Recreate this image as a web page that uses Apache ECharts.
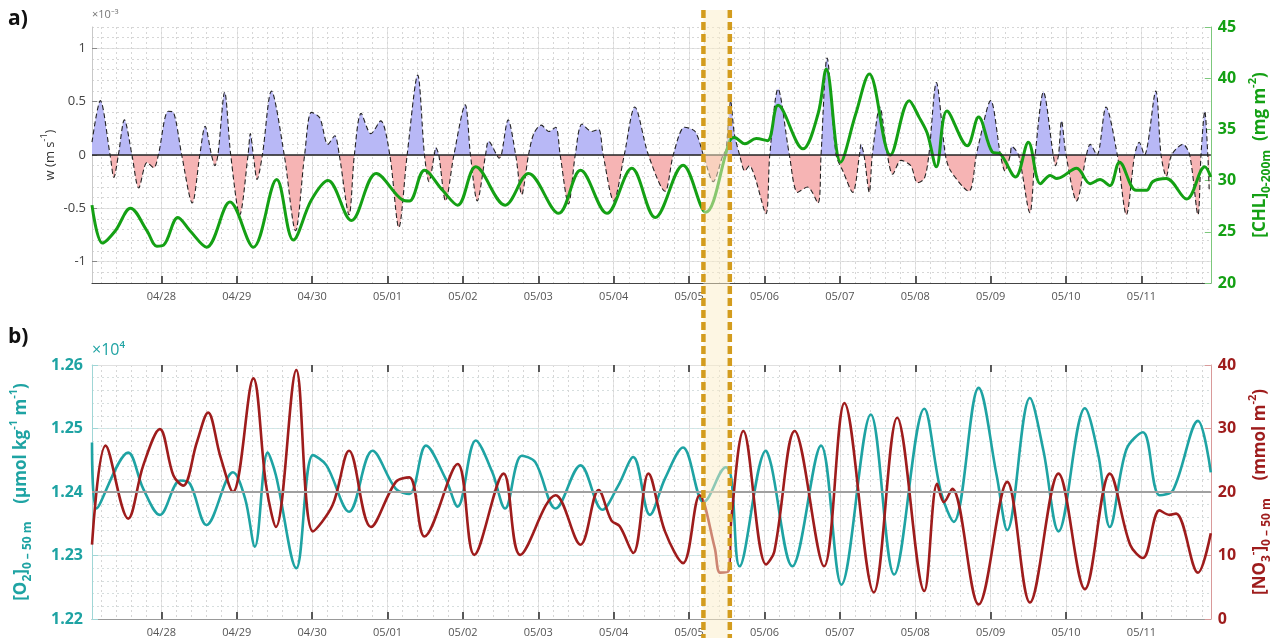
<!DOCTYPE html>
<html>
<head>
<meta charset="utf-8">
<script src="https://cdn.jsdelivr.net/npm/echarts@6/dist/echarts.min.js"></script>
<style>
    html, body { margin: 0; padding: 0; background: #fff; }
    #chart { width: 1281px; height: 638px; }
</style>
</head>
<body>
<div id="chart"></div>
<script>
    // x values are days after 04/28 00:00
    const dayTicks = [0, 1, 2, 3, 4, 5, 6, 7, 8, 9, 10, 11, 12, 13];
    const dateLabels = ['04/28', '04/29', '04/30', '05/01', '05/02', '05/03', '05/04',
        '05/05', '05/06', '05/07', '05/08', '05/09', '05/10', '05/11'];
    const dayRange = [-0.92, 13.92];
    const highlight = [7.19, 7.54];

    // vertical velocity, x10^-3 m s-1
    const wPoints = [[-0.92,0.12],[-0.81,0.51],[-0.68,0],[-0.63,-0.21],[-0.57,0],[-0.49,0.33],[-0.39,0],[-0.30,-0.31],[-0.19,-0.07],[-0.10,-0.12],[-0.04,0],[0.09,0.41],[0.16,0.40],[0.27,0],[0.41,-0.45],[0.51,0],[0.58,0.27],[0.665,0],[0.71,-0.10],[0.75,0],[0.84,0.59],[0.92,0],[1.04,-0.56],[1.15,0],[1.18,0.20],[1.22,0],[1.27,-0.23],[1.34,0],[1.46,0.60],[1.63,0],[1.78,-0.71],[1.90,0],[1.99,0.40],[2.10,0.35],[2.21,0.10],[2.30,0.18],[2.36,0],[2.49,-0.56],[2.56,0],[2.65,0.39],[2.78,0.20],[2.91,0.32],[3.03,0],[3.15,-0.68],[3.26,0],[3.40,0.75],[3.49,0],[3.55,-0.25],[3.62,0],[3.64,0.07],[3.68,0],[3.77,-0.43],[3.88,0],[4.03,0.47],[4.10,0],[4.19,-0.43],[4.30,0],[4.34,0.13],[4.45,0],[4.48,-0.03],[4.51,0],[4.60,0.33],[4.70,0],[4.78,-0.37],[4.87,0],[4.94,0.20],[5.04,0.28],[5.14,0.22],[5.23,0.26],[5.29,0],[5.40,-0.46],[5.49,0],[5.58,0.29],[5.71,0.22],[5.80,0.24],[5.86,0],[6.00,-0.43],[6.14,0],[6.28,0.45],[6.46,0],[6.68,-0.34],[6.79,0],[6.94,0.26],[7.08,0.22],[7.19,0],[7.32,-0.25],[7.45,0],[7.49,0.05],[7.55,0.51],[7.60,0.20],[7.67,0],[7.74,-0.15],[7.80,-0.10],[7.87,-0.20],[8.02,-0.55],[8.07,0],[8.18,0.62],[8.33,0],[8.44,-0.35],[8.57,-0.30],[8.71,-0.45],[8.75,0],[8.83,0.91],[8.95,0],[9.04,-0.15],[9.17,-0.35],[9.26,0],[9.28,0.10],[9.32,0],[9.39,-0.35],[9.43,0],[9.53,0.45],[9.63,0],[9.70,-0.18],[9.81,-0.05],[9.94,-0.10],[10.03,-0.26],[10.12,-0.22],[10.18,0],[10.28,0.68],[10.40,0],[10.47,-0.15],[10.71,-0.34],[10.81,0],[10.84,0.10],[11.00,0.51],[11.13,0],[11.19,-0.15],[11.26,0],[11.28,0.08],[11.37,0],[11.52,-0.54],[11.59,0],[11.70,0.59],[11.83,0],[11.86,-0.10],[11.90,0],[11.94,0.32],[12.00,0],[12.14,-0.43],[12.27,0],[12.32,0.10],[12.41,0],[12.53,0.45],[12.68,0],[12.80,-0.56],[12.91,0],[12.97,0.12],[13.04,0],[13.19,0.60],[13.26,0],[13.33,-0.20],[13.40,0],[13.55,0.10],[13.64,0],[13.75,-0.56],[13.79,0],[13.84,0.41],[13.88,0],[13.90,-0.35]];

    // [CHL] 0-200 m, mg m-2
    const chlPoints = [[-0.92,27.6],[-0.78,23.9],[-0.61,25.1],[-0.41,27.3],[-0.19,25.1],[-0.06,23.6],[0.03,23.7],[0.22,26.4],[0.38,25.1],[0.60,23.5],[0.91,27.9],[1.22,23.5],[1.53,30.1],[1.75,24.2],[1.99,28.1],[2.21,30.0],[2.52,26.1],[2.85,30.7],[3.20,28.1],[3.29,28.0],[3.49,31.0],[3.73,29.05],[3.93,27.6],[4.17,31.35],[4.56,27.6],[4.87,30.7],[5.27,26.8],[5.56,31.0],[5.91,26.8],[6.24,31.2],[6.55,26.4],[6.92,31.5],[7.22,26.9],[7.54,33.9],[7.60,34.2],[7.74,33.6],[7.89,34.1],[8.04,33.9],[8.18,37.35],[8.51,33.1],[8.71,36.5],[8.82,40.9],[9.01,31.8],[9.21,36.5],[9.39,40.4],[9.67,32.5],[9.92,37.8],[10.05,36.2],[10.16,34.6],[10.28,31.35],[10.42,36.8],[10.69,33.4],[10.84,36.2],[11.02,32.8],[11.13,32.6],[11.33,30.35],[11.50,33.75],[11.66,29.7],[11.79,30.5],[11.88,30.2],[12.14,31.2],[12.32,29.7],[12.45,30.1],[12.58,29.5],[12.71,31.8],[12.93,29.05],[13.07,29.05],[13.15,29.9],[13.33,30.2],[13.60,28.2],[13.84,31.35],[13.92,30.35]];

    // [O2] 0-50 m, umol kg-1 m-1
    const o2Points = [[-0.92,12478],[-0.86,12374],[-0.44,12462],[-0.24,12405],[-0.02,12364],[0.25,12418],[0.38,12413],[0.60,12348],[0.95,12431],[1.11,12390],[1.24,12314],[1.41,12462],[1.52,12426],[1.79,12280],[2.01,12458],[2.19,12442],[2.49,12369],[2.80,12465],[3.11,12405],[3.29,12397],[3.51,12473],[3.77,12421],[3.93,12377],[4.17,12481],[4.39,12431],[4.56,12374],[4.78,12457],[4.96,12447],[5.23,12374],[5.56,12442],[5.85,12372],[6.06,12410],[6.26,12455],[6.48,12364],[6.68,12421],[6.92,12470],[7.19,12384],[7.25,12390],[7.49,12439],[7.56,12421],[7.67,12283],[8.02,12465],[8.09,12442],[8.37,12283],[8.75,12473],[9.02,12254],[9.41,12522],[9.72,12270],[10.12,12531],[10.34,12400],[10.51,12353],[10.84,12564],[11.08,12426],[11.22,12340],[11.52,12548],[11.70,12465],[11.90,12338],[12.25,12532],[12.43,12457],[12.58,12345],[12.80,12467],[13.02,12494],[13.24,12395],[13.42,12403],[13.75,12512],[13.92,12431]];

    // [NO3-] 0-50 m, mmol m-2
    const no3Points = [[-0.92,11.7],[-0.74,27.3],[-0.44,15.8],[-0.24,24.2],[-0.02,29.9],[0.16,22.6],[0.29,21.0],[0.47,27.8],[0.62,32.5],[0.78,25.7],[0.95,20.0],[1.22,37.9],[1.39,21.0],[1.52,14.5],[1.79,39.2],[2.01,13.8],[2.27,17.9],[2.49,26.5],[2.78,14.5],[3.11,21.6],[3.29,22.3],[3.49,13.0],[3.93,24.4],[4.15,10.1],[4.54,22.9],[4.76,10.1],[5.23,19.5],[5.56,11.7],[5.80,20.3],[5.97,15.5],[6.08,14.6],[6.26,10.4],[6.46,22.9],[6.68,13.8],[6.92,8.8],[7.14,19.5],[7.34,11.2],[7.41,7.3],[7.52,7.5],[7.56,15.8],[7.72,29.6],[8.02,8.6],[8.13,10.6],[8.40,29.6],[8.79,8.3],[9.06,34.0],[9.45,4.2],[9.76,31.7],[10.12,4.4],[10.29,21.3],[10.38,18.4],[10.49,20.5],[10.84,2.3],[11.22,21.6],[11.52,2.6],[11.90,22.9],[12.25,4.7],[12.58,22.9],[12.85,11.7],[13.02,9.6],[13.24,17.1],[13.37,16.4],[13.46,16.6],[13.75,7.3],[13.92,13.5]];

    const wTicks = [-1, -0.5, 0, 0.5, 1];

    const GREEN = '#14a014';
    const TEAL = '#1ea3a3';
    const RED = '#9e1c1c';
    const FONT = 'Open Sans';

    // dotted minor grid every 0.2 day
    const minorDays = [];
    for (let d = -0.8; d < 13.91; d += 0.2) minorDays.push(+d.toFixed(1));

    const chart = echarts.init(document.getElementById('chart'));

    function mainX(gridIndex) {
        return {
            type: 'value', gridIndex, min: dayRange[0], max: dayRange[1], position: 'bottom',
            axisLine: { onZero: false, lineStyle: { color: gridIndex === 0 ? '#444' : '#999', width: 1.2 } },
            axisTick: { inside: true, customValues: dayTicks, length: 7, lineStyle: { color: '#333', width: 1.6 } },
            axisLabel: {
                customValues: dayTicks, color: '#555', fontSize: 11, margin: 8,
                formatter: v => dateLabels[Math.round(v)]
            },
            splitLine: { show: true, lineStyle: { color: '#e3e3e3', width: 1 } }
        };
    }
    function minorX(gridIndex) {
        return {
            type: 'value', gridIndex, min: dayRange[0], max: dayRange[1],
            axisLine: { show: false, onZero: false }, axisLabel: { show: false },
            axisTick: { show: false, customValues: minorDays },
            splitLine: { show: true, lineStyle: { color: '#d6d6d6', type: [2, 3], width: 1 } }
        };
    }

    chart.setOption({
        animation: false,
        textStyle: { fontFamily: FONT },
        grid: [
            { left: 92, top: 27, width: 1123, height: 256 },
            { left: 92, top: 365, width: 1123, height: 257 }
        ],
        xAxis: [
            mainX(0), minorX(0),
            mainX(1), minorX(1),
            {
                type: 'value', gridIndex: 1, min: dayRange[0], max: dayRange[1], position: 'top',
                axisLine: { onZero: false, lineStyle: { color: '#e0e0e0' } },
                axisTick: { inside: true, customValues: dayTicks, length: 7, lineStyle: { color: '#333', width: 1.6 } },
                axisLabel: { show: false }, splitLine: { show: false }
            }
        ],
        yAxis: [
            {
                type: 'value', gridIndex: 0, min: -1.2, max: 1.2, position: 'left',
                name: 'w (m s{p|-1})', nameLocation: 'middle', nameRotate: 90, nameGap: 32,
                nameMoveOverlap: false,
                nameTextStyle: {
                    color: '#333', fontSize: 13, lineHeight: 20,
                    rich: { p: { fontSize: 9, verticalAlign: 'top', color: '#333' } }
                },
                axisLine: { show: true, onZero: false, lineStyle: { color: '#c8c8c8' } },
                axisTick: { inside: true, customValues: wTicks, length: 5, lineStyle: { color: '#888' } },
                axisLabel: { customValues: wTicks, color: '#444', fontSize: 13, margin: 6 },
                splitLine: { show: true, lineStyle: { color: '#e3e3e3' } }
            },
            {
                type: 'value', gridIndex: 0, min: 20, max: 45, interval: 5, position: 'right',
                name: '[CHL]{s|0-200m}  (mg m{p|-2})', nameLocation: 'middle', nameRotate: 90, nameGap: 34,
                nameTextStyle: {
                    color: GREEN, fontSize: 17, fontWeight: 'bold', lineHeight: 26,
                    rich: {
                        s: { fontSize: 12, fontWeight: 'bold', color: GREEN, verticalAlign: 'bottom' },
                        p: { fontSize: 11, fontWeight: 'bold', color: GREEN, verticalAlign: 'top' }
                    }
                },
                axisLine: { show: true, onZero: false, lineStyle: { color: '#7cc87c' } },
                axisTick: { inside: true, length: 6, lineStyle: { color: '#7cc87c' } },
                axisLabel: { color: GREEN, fontSize: 16, fontWeight: 'bold', margin: 7 },
                splitLine: { show: false }
            },
            {
                type: 'value', gridIndex: 0, min: -1.2, max: 1.2, interval: 0.1,
                axisLine: { show: false, onZero: false }, axisTick: { show: false }, axisLabel: { show: false },
                splitLine: { show: true, lineStyle: { color: '#d6d6d6', type: [2, 3] } }
            },
            {
                type: 'value', gridIndex: 1, min: 12200, max: 12600, interval: 100, position: 'left',
                name: '[O{s|2}]{s|0 \u2013 50 m}    (\u00b5mol kg{p|-1} m{p|-1})',
                nameLocation: 'middle', nameRotate: 90, nameGap: 58,
                nameTextStyle: {
                    color: TEAL, fontSize: 17, fontWeight: 'bold', lineHeight: 26,
                    rich: {
                        s: { fontSize: 12, fontWeight: 'bold', color: TEAL, verticalAlign: 'bottom' },
                        p: { fontSize: 11, fontWeight: 'bold', color: TEAL, verticalAlign: 'top' }
                    }
                },
                axisLine: { show: true, onZero: false, lineStyle: { color: '#9fd6d6' } },
                axisTick: { inside: true, length: 6, lineStyle: { color: '#9fd6d6' } },
                axisLabel: {
                    color: TEAL, fontSize: 16, fontWeight: 'bold', margin: 9,
                    formatter: v => (v / 10000).toFixed(2)
                },
                splitLine: { show: true, lineStyle: { color: '#cfeaea' } }
            },
            {
                type: 'value', gridIndex: 1, min: 0, max: 40, interval: 10, position: 'right',
                name: '[NO{s|3}{p|-}]{s|0 \u2013 50 m}    (mmol m{p|-2})',
                nameLocation: 'middle', nameRotate: 90, nameGap: 36,
                nameTextStyle: {
                    color: RED, fontSize: 17, fontWeight: 'bold', lineHeight: 26,
                    rich: {
                        s: { fontSize: 12, fontWeight: 'bold', color: RED, verticalAlign: 'bottom' },
                        p: { fontSize: 11, fontWeight: 'bold', color: RED, verticalAlign: 'top' }
                    }
                },
                axisLine: { show: true, onZero: false, lineStyle: { color: '#d99a9a' } },
                axisTick: { inside: true, length: 6, lineStyle: { color: '#d99a9a' } },
                axisLabel: { color: RED, fontSize: 16, fontWeight: 'bold', margin: 7 },
                splitLine: { show: false }
            },
            {
                type: 'value', gridIndex: 1, min: 12200, max: 12600, interval: 20,
                axisLine: { show: false, onZero: false }, axisTick: { show: false }, axisLabel: { show: false },
                splitLine: { show: true, lineStyle: { color: '#d6dede', type: [2, 3] } }
            }
        ],
        visualMap: {
            show: false, type: 'piecewise', seriesIndex: 0, dimension: 1,
            pieces: [{ gte: -5, lt: 0, color: '#f6b4b4' }, { gte: 0, lte: 5, color: '#b8b8f6' }]
        },
        series: [
            {
                name: 'w', type: 'line', xAxisIndex: 0, yAxisIndex: 0, data: wPoints,
                smooth: 0.3, symbol: 'none', z: 3,
                lineStyle: { color: '#222', width: 1.1, type: [5, 3] },
                areaStyle: { opacity: 1 },
                markLine: {
                    silent: true, symbol: 'none', label: { show: false },
                    lineStyle: { color: '#222', width: 1.5, type: 'solid' },
                    data: [{ yAxis: 0 }]
                }
            },
            {
                name: 'CHL', type: 'line', xAxisIndex: 0, yAxisIndex: 1, data: chlPoints,
                smooth: 0.35, symbol: 'none', z: 4,
                lineStyle: { color: GREEN, width: 3 }
            },
            {
                name: 'O2', type: 'line', xAxisIndex: 2, yAxisIndex: 3, data: o2Points,
                smooth: 0.35, symbol: 'none', z: 4,
                lineStyle: { color: TEAL, width: 2.6 },
                markLine: {
                    silent: true, symbol: 'none', label: { show: false },
                    lineStyle: { color: '#a0a0a0', width: 2, type: 'solid' },
                    data: [{ yAxis: 12400 }]
                }
            },
            {
                name: 'NO3', type: 'line', xAxisIndex: 2, yAxisIndex: 4, data: no3Points,
                smooth: 0.35, symbol: 'none', z: 4,
                lineStyle: { color: RED, width: 2.6 }
            }
        ]
    });

    // highlighted period: shaded column with dashed borders across both panels
    const xa = chart.convertToPixel({ xAxisIndex: 0 }, highlight[0]);
    const xb = chart.convertToPixel({ xAxisIndex: 0 }, highlight[1]);
    chart.setOption({
        graphic: [
            {
                type: 'rect', z: 50, silent: true,
                shape: { x: xa, y: 10, width: xb - xa, height: 628 },
                style: { fill: 'rgba(252,238,200,0.5)' }
            },
            {
                type: 'line', z: 51, silent: true,
                shape: { x1: xa, y1: 10, x2: xa, y2: 638 },
                style: { stroke: '#d39c1e', lineWidth: 4.5, lineDash: [8, 4] }
            },
            {
                type: 'line', z: 51, silent: true,
                shape: { x1: xb, y1: 10, x2: xb, y2: 638 },
                style: { stroke: '#d39c1e', lineWidth: 4.5, lineDash: [8, 4] }
            },
            {
                type: 'text', left: 8, top: 9, z: 60,
                style: { text: 'a)', font: 'bold 21px "Open Sans"', fill: '#111' }
            },
            {
                type: 'text', left: 8, top: 327, z: 60,
                style: { text: 'b)', font: 'bold 21px "Open Sans"', fill: '#111' }
            },
            {
                type: 'text', left: 92, top: 9, z: 60,
                style: { text: '\u00d710\u207b\u00b3', font: '11px "Open Sans"', fill: '#777' }
            },
            {
                type: 'text', left: 92, top: 342, z: 60,
                style: { text: '\u00d710\u2074', font: '16px "Open Sans"', fill: TEAL }
            }
        ]
    });
</script>
</body>
</html>
